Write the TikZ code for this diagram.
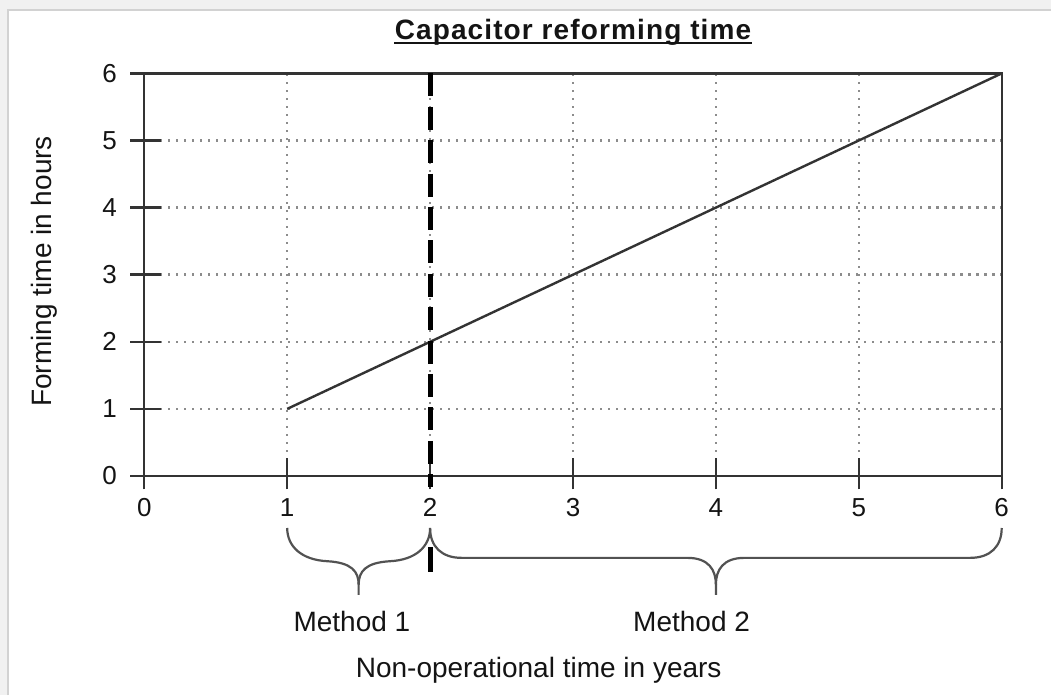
\documentclass[tikz,border=0pt]{standalone}
\usepackage{fontspec}
\setmainfont{Liberation Sans}
\usetikzlibrary{positioning}
\definecolor{pagegray}{HTML}{F1F1F1}
\definecolor{edgegray}{HTML}{D2D2D2}
\definecolor{inkgray}{HTML}{333333}
\definecolor{textink}{HTML}{141414}
\tikzset{
  axisline/.style={inkgray, line width=1.2pt},
  gridline/.style={gray!90, line width=1.2pt, dash pattern=on 1.1pt off 2.9pt},
  bracepath/.style={inkgray!85, line width=1.1pt},
  ticklabel/.style={inner sep=0pt, text=textink, font=\fontsize{13}{15}\selectfont},
  axislabel/.style={inner sep=0pt, text=textink, font=\fontsize{14}{16}\selectfont},
}
\begin{document}
\begin{tikzpicture}[x=71.45pt, y=33.55pt]
\useasboundingbox (-1.0098,-3.264) rectangle (6.345,7.094);
% page behind the chart
\fill[pagegray] (-1.0098,-3.264) rectangle (6.345,7.094);
\fill[white] (-0.954,-3.264) rectangle (6.345,6.945);
\draw[edgegray, line width=0.8pt] (-0.954,-3.264) -- (-0.954,6.945) -- (6.345,6.945);

% dotted grid
\foreach \i in {1,...,5} {
  \draw[gridline] (\i,0) -- (\i,6);
  \draw[gridline] (0,\i) -- (6,\i);
}

% frame, ticks and numbers
\draw[axisline] (-0.1,6) -- (6,6) -- (6,-0.2);
\draw[axisline] (-0.1,0) -- (6,0);
\draw[axisline] (0,6) -- (0,-0.2);
\foreach \i in {0,...,6} {
  \draw[axisline] (-0.1,\i) -- (0.12,\i);
  \draw[axisline] (\i,-0.2) -- (\i,0.27);
  \node[ticklabel, anchor=east] (y\i) at (-0.19,\i) {\i};
  \node[ticklabel, anchor=north] (x\i) at (\i,-0.33) {\i};
}

% forming time curve
\draw[inkgray, line width=1.2pt] (1,1) -- (6,6);

% limit between the two methods
\draw[black, line width=2.4pt, dash pattern=on 11.5pt off 5.2pt] (2,6) -- (2,-0.17);
\draw[black, line width=2.4pt] (2,-1.06) -- (2,-1.43);

% braces
\draw[bracepath] (1,-0.775) .. controls (1,-1.05) and (1.1,-1.25) .. (1.28,-1.27)
  .. controls (1.45,-1.29) and (1.5,-1.42) .. (1.5,-1.62) -- (1.5,-1.77);
\draw[bracepath] (1.5,-1.62) .. controls (1.5,-1.42) and (1.55,-1.29) .. (1.72,-1.27)
  .. controls (1.9,-1.25) and (2,-1.05) .. (2,-0.775);
\draw[bracepath] (2,-0.775) .. controls (2,-1.05) and (2.08,-1.22) .. (2.22,-1.22)
  -- (3.8,-1.22) .. controls (3.95,-1.22) and (4,-1.4) .. (4,-1.62) -- (4,-1.77);
\draw[bracepath] (4,-1.62) .. controls (4,-1.4) and (4.05,-1.22) .. (4.2,-1.22)
  -- (5.78,-1.22) .. controls (5.92,-1.22) and (6,-1.05) .. (6,-0.775);

% texts
\node[inner sep=0pt, anchor=base, text=textink,
  font=\fontsize{14}{16}\selectfont\bfseries\addfontfeature{LetterSpace=4}]
  (title) at (3.0,6.50) {Capacitor reforming time};
\draw[textink, line width=1.1pt] ([yshift=-1.7pt]title.base west) -- ([yshift=-1.7pt]title.base east);
\node[axislabel, rotate=90, anchor=base] (ylabel) at (-0.648,3.05) {Forming time in hours};
\node[axislabel, anchor=base] (method1) at (1.453,-2.32) {Method 1};
\node[axislabel, anchor=base] (method2) at (3.83,-2.32) {Method 2};
\node[axislabel, anchor=base] (xlabel) at (2.76,-3.01) {Non-operational time in years};
\end{tikzpicture}
\end{document}
